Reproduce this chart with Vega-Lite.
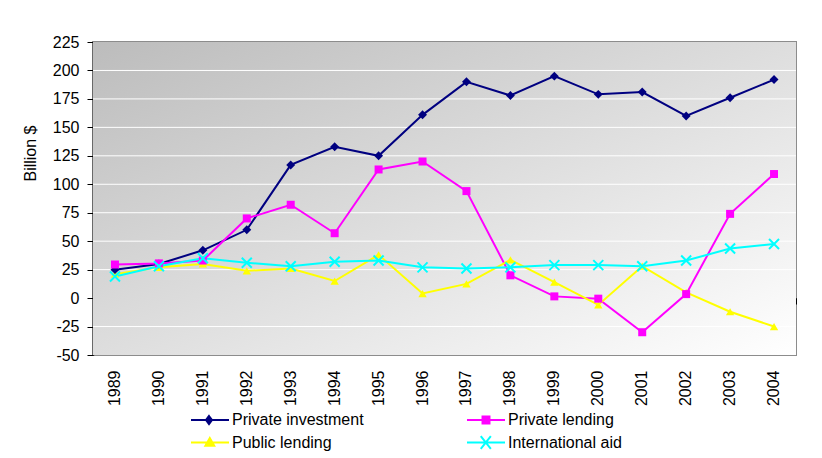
{
  "$schema": "https://vega.github.io/schema/vega-lite/v6.json",
  "width": 703,
  "height": 313,
  "autosize": {"type": "none"},
  "padding": {"left": 93, "top": 42, "right": 26, "bottom": 103},
  "config": {
    "font": "Liberation Sans",
    "view": {"stroke": "#8c8c8c", "strokeWidth": 2},
    "axis": {
      "labelFont": "Liberation Sans", "labelFontSize": 16, "labelColor": "#000000",
      "titleFont": "Liberation Sans", "titleFontSize": 16, "titleFontWeight": "normal", "titleColor": "#000000",
      "domainColor": "#000000", "tickColor": "#000000"
    },
    "axisY": {"labelOverlap": false, "labelSeparation": 0},
    "legend": {
      "columnPadding": 99, "rowPadding": 3.5, "padding": 0,
      "labelFont": "Liberation Sans", "labelFontSize": 16, "labelColor": "#000000",
      "labelOffset": 24, "symbolSize": 256, "symbolStrokeWidth": 2
    }
  },
  "data": {"values": [
    {"year": "1989", "series": "Private investment", "v": 25},
    {"year": "1990", "series": "Private investment", "v": 30},
    {"year": "1991", "series": "Private investment", "v": 42},
    {"year": "1992", "series": "Private investment", "v": 60},
    {"year": "1993", "series": "Private investment", "v": 117},
    {"year": "1994", "series": "Private investment", "v": 133},
    {"year": "1995", "series": "Private investment", "v": 125},
    {"year": "1996", "series": "Private investment", "v": 161},
    {"year": "1997", "series": "Private investment", "v": 190},
    {"year": "1998", "series": "Private investment", "v": 178},
    {"year": "1999", "series": "Private investment", "v": 195},
    {"year": "2000", "series": "Private investment", "v": 179},
    {"year": "2001", "series": "Private investment", "v": 181},
    {"year": "2002", "series": "Private investment", "v": 160},
    {"year": "2003", "series": "Private investment", "v": 176},
    {"year": "2004", "series": "Private investment", "v": 192},
    {"year": "1989", "series": "Private lending", "v": 29.5},
    {"year": "1990", "series": "Private lending", "v": 30.5},
    {"year": "1991", "series": "Private lending", "v": 33},
    {"year": "1992", "series": "Private lending", "v": 70},
    {"year": "1993", "series": "Private lending", "v": 82},
    {"year": "1994", "series": "Private lending", "v": 57},
    {"year": "1995", "series": "Private lending", "v": 113},
    {"year": "1996", "series": "Private lending", "v": 120},
    {"year": "1997", "series": "Private lending", "v": 94},
    {"year": "1998", "series": "Private lending", "v": 20},
    {"year": "1999", "series": "Private lending", "v": 1.5},
    {"year": "2000", "series": "Private lending", "v": -0.5},
    {"year": "2001", "series": "Private lending", "v": -30},
    {"year": "2002", "series": "Private lending", "v": 3.5},
    {"year": "2003", "series": "Private lending", "v": 74},
    {"year": "2004", "series": "Private lending", "v": 109},
    {"year": "1989", "series": "Public lending", "v": 21},
    {"year": "1990", "series": "Public lending", "v": 27},
    {"year": "1991", "series": "Public lending", "v": 30},
    {"year": "1992", "series": "Public lending", "v": 24},
    {"year": "1993", "series": "Public lending", "v": 26},
    {"year": "1994", "series": "Public lending", "v": 15},
    {"year": "1995", "series": "Public lending", "v": 38},
    {"year": "1996", "series": "Public lending", "v": 4},
    {"year": "1997", "series": "Public lending", "v": 12.5},
    {"year": "1998", "series": "Public lending", "v": 33.5},
    {"year": "1999", "series": "Public lending", "v": 14},
    {"year": "2000", "series": "Public lending", "v": -6},
    {"year": "2001", "series": "Public lending", "v": 28},
    {"year": "2002", "series": "Public lending", "v": 5},
    {"year": "2003", "series": "Public lending", "v": -12},
    {"year": "2004", "series": "Public lending", "v": -25},
    {"year": "1989", "series": "International aid", "v": 19},
    {"year": "1990", "series": "International aid", "v": 28},
    {"year": "1991", "series": "International aid", "v": 35},
    {"year": "1992", "series": "International aid", "v": 31},
    {"year": "1993", "series": "International aid", "v": 28},
    {"year": "1994", "series": "International aid", "v": 32},
    {"year": "1995", "series": "International aid", "v": 33},
    {"year": "1996", "series": "International aid", "v": 27},
    {"year": "1997", "series": "International aid", "v": 26},
    {"year": "1998", "series": "International aid", "v": 27},
    {"year": "1999", "series": "International aid", "v": 29},
    {"year": "2000", "series": "International aid", "v": 29},
    {"year": "2001", "series": "International aid", "v": 28},
    {"year": "2002", "series": "International aid", "v": 33},
    {"year": "2003", "series": "International aid", "v": 43.5},
    {"year": "2004", "series": "International aid", "v": 47.5}
  ]},
  "layer": [
    {
      "transform": [{"filter": {"field": "v", "gt": 10000}}],
      "mark": {"type": "point", "filled": true, "opacity": 1},
      "encoding": {
        "color": {"field": "series", "type": "nominal",
          "scale": {"domain": ["Private investment", "Private lending", "Public lending", "International aid"], "range": ["#000080", "#ff00ff", "#ffff00", "#00ffff"]},
          "legend": {"title": null, "orient": "none", "direction": "horizontal", "legendX": 97, "legendY": 369, "columns": 2,
            "encode": {"symbols": {"update": {"stroke": {"scale": "color", "field": "value"}, "strokeWidth": {"value": 2}}}}}},
        "shape": {"field": "series", "type": "nominal",
          "scale": {"domain": ["Private investment", "Private lending", "Public lending", "International aid"],
            "range": [
              "M-1,0H3.75M1.25,-0.5L1.625,0L1.25,0.5L0.875,0Z",
              "M-1,0H3.75M0.94,-0.44H1.81V0.44H0.94Z",
              "M-1,0H3.75M0.8,0.4L1.35,-0.55L1.9,0.4Z",
              "M-1,0H3.75M0.72,-0.8L1.98,0.8M0.72,0.8L1.98,-0.8"
            ]},
          "legend": {"title": null, "orient": "none", "direction": "horizontal", "legendX": 97, "legendY": 369, "columns": 2}}
      }
    },
    {
      "data": {"values": [{"panel": "plot"}]},
      "mark": {"type": "rect", "fill": {"gradient": "linear", "x1": 0, "y1": 0, "x2": 1, "y2": 1,
        "stops": [{"offset": 0, "color": "#bcbcbc"}, {"offset": 1, "color": "#ffffff"}]}},
      "encoding": {
        "y": {"datum": 225, "type": "quantitative", "scale": {"domain": [-50, 225], "nice": false, "zero": false},
          "axis": {"values": [-50, -25, 0, 25, 50, 75, 100, 125, 150, 175, 200, 225], "labelExpr": "toString(datum.value)", "grid": false, "labelOverlap": false,
            "tickSize": 6, "labelPadding": 8, "domainWidth": 1.5, "title": "Billion $", "titlePadding": 14, "titleY": 111}},
        "y2": {"datum": -50}
      }
    },
    {
      "data": {"values": [{"g": -25}, {"g": 25}, {"g": 50}, {"g": 75}, {"g": 100}, {"g": 125}, {"g": 150}, {"g": 175}, {"g": 200}]},
      "mark": {"type": "rule", "color": "#ffffff", "strokeWidth": 1},
      "encoding": {
        "y": {"field": "g", "type": "quantitative",
          "axis": {"values": [-50, -25, 0, 25, 50, 75, 100, 125, 150, 175, 200, 225], "labelExpr": "toString(datum.value)", "grid": false, "labelOverlap": false,
            "tickSize": 6, "labelPadding": 8, "domainWidth": 1.5, "title": "Billion $", "titlePadding": 14, "titleY": 111}}
      }
    },
    {
      "mark": {"type": "line", "strokeWidth": 2},
      "encoding": {
        "x": {"field": "year", "type": "ordinal", "scale": {"paddingInner": 0, "paddingOuter": 0},
          "axis": {"orient": "bottom", "offset": -57, "labels": false, "ticks": true, "tickBand": "extent", "tickSize": 6, "domain": true, "domainWidth": 1, "grid": false, "title": null}},
        "y": {"field": "v", "type": "quantitative",
          "axis": {"values": [-50, -25, 0, 25, 50, 75, 100, 125, 150, 175, 200, 225], "labelExpr": "toString(datum.value)", "grid": false, "labelOverlap": false,
            "tickSize": 6, "labelPadding": 8, "domainWidth": 1.5, "title": "Billion $", "titlePadding": 14, "titleY": 111}},
        "color": {"field": "series", "type": "nominal", "legend": null}
      }
    },
    {
      "transform": [{"filter": {"field": "series", "equal": "Public lending"}}],
      "mark": {"type": "point", "filled": true, "opacity": 1, "shape": "triangle-up", "size": 70},
      "encoding": {
        "x": {"field": "year", "type": "ordinal",
          "axis": {"orient": "bottom", "labels": true, "labelAngle": -90, "ticks": false, "domain": false, "labelPadding": 15, "grid": false, "title": null}},
        "y": {"field": "v", "type": "quantitative",
          "axis": {"values": [-50, -25, 0, 25, 50, 75, 100, 125, 150, 175, 200, 225], "labelExpr": "toString(datum.value)", "grid": false, "labelOverlap": false,
            "tickSize": 6, "labelPadding": 8, "domainWidth": 1.5, "title": "Billion $", "titlePadding": 14, "titleY": 111}},
        "color": {"field": "series", "type": "nominal", "legend": null}
      }
    },
    {
      "transform": [{"filter": {"field": "series", "equal": "Private investment"}}],
      "mark": {"type": "point", "filled": true, "opacity": 1, "shape": "diamond", "size": 80},
      "encoding": {
        "x": {"field": "year", "type": "ordinal", "axis": null},
        "y": {"field": "v", "type": "quantitative",
          "axis": {"values": [-50, -25, 0, 25, 50, 75, 100, 125, 150, 175, 200, 225], "labelExpr": "toString(datum.value)", "grid": false, "labelOverlap": false,
            "tickSize": 6, "labelPadding": 8, "domainWidth": 1.5, "title": "Billion $", "titlePadding": 14, "titleY": 111}},
        "color": {"field": "series", "type": "nominal", "legend": null}
      }
    },
    {
      "transform": [{"filter": {"field": "series", "equal": "Private lending"}}],
      "mark": {"type": "point", "filled": true, "opacity": 1, "shape": "square", "size": 64},
      "encoding": {
        "x": {"field": "year", "type": "ordinal", "axis": null},
        "y": {"field": "v", "type": "quantitative",
          "axis": {"values": [-50, -25, 0, 25, 50, 75, 100, 125, 150, 175, 200, 225], "labelExpr": "toString(datum.value)", "grid": false, "labelOverlap": false,
            "tickSize": 6, "labelPadding": 8, "domainWidth": 1.5, "title": "Billion $", "titlePadding": 14, "titleY": 111}},
        "color": {"field": "series", "type": "nominal", "legend": null}
      }
    },
    {
      "transform": [{"filter": {"field": "series", "equal": "International aid"}}],
      "mark": {"type": "point", "filled": false, "opacity": 1, "strokeWidth": 2, "shape": "M-1,-1L1,1M-1,1L1,-1", "size": 100},
      "encoding": {
        "x": {"field": "year", "type": "ordinal", "axis": null},
        "y": {"field": "v", "type": "quantitative",
          "axis": {"values": [-50, -25, 0, 25, 50, 75, 100, 125, 150, 175, 200, 225], "labelExpr": "toString(datum.value)", "grid": false, "labelOverlap": false,
            "tickSize": 6, "labelPadding": 8, "domainWidth": 1.5, "title": "Billion $", "titlePadding": 14, "titleY": 111}},
        "color": {"field": "series", "type": "nominal", "legend": null}
      }
    }
  ],
  "resolve": {"axis": {"x": "independent"}}
}
